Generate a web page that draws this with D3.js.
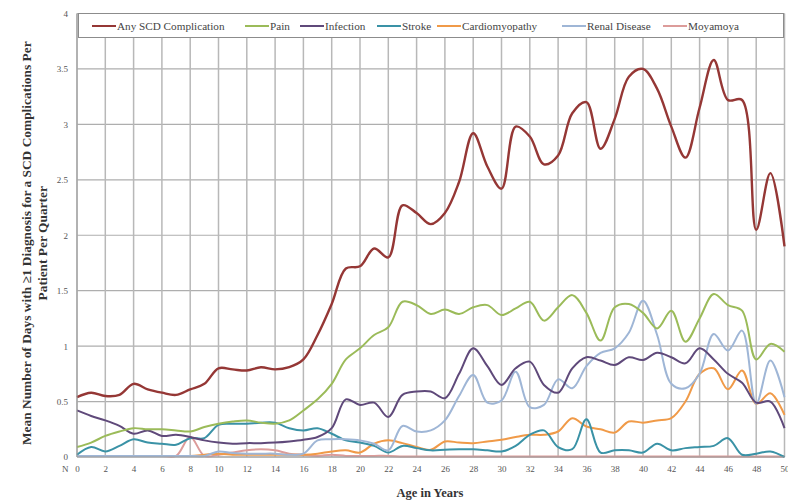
<!DOCTYPE html>
<html>
<head>
<meta charset="utf-8">
<script src="https://cdn.jsdelivr.net/npm/d3@7"></script>
<style>
  body { margin: 0; background: #fff; }
  svg { display: block; }
</style>
</head>
<body>
<script>
const width = 788;
const height = 503;

// ages 0..50, one point per year
const ages = d3.range(0, 51);

const anyScd = [0.54, 0.58, 0.55, 0.56, 0.66, 0.61, 0.58, 0.56, 0.61, 0.66,
  0.80, 0.79, 0.78, 0.81, 0.79, 0.81, 0.88, 1.10, 1.38, 1.70,
  1.72, 1.88, 1.80, 2.27, 2.20, 2.10, 2.20, 2.48, 2.92, 2.62,
  2.42, 2.98, 2.89, 2.64, 2.72, 3.10, 3.20, 2.78, 3.05, 3.43,
  3.50, 3.32, 2.98, 2.70, 3.15, 3.58, 3.22, 3.22, 2.05, 2.56, 1.90];
const pain = [0.09, 0.13, 0.19, 0.23, 0.26, 0.25, 0.25, 0.24, 0.23, 0.27,
  0.30, 0.32, 0.33, 0.31, 0.30, 0.33, 0.42, 0.52, 0.66, 0.88,
  0.98, 1.10, 1.17, 1.40, 1.37, 1.29, 1.33, 1.29, 1.35, 1.37,
  1.28, 1.34, 1.40, 1.23, 1.35, 1.46, 1.30, 1.05, 1.35, 1.38,
  1.30, 1.16, 1.32, 1.04, 1.25, 1.47, 1.37, 1.32, 0.88, 1.02, 0.95];
const infection = [0.42, 0.37, 0.33, 0.28, 0.21, 0.24, 0.19, 0.20, 0.18, 0.15,
  0.13, 0.12, 0.125, 0.125, 0.13, 0.14, 0.155, 0.18, 0.26, 0.52,
  0.47, 0.49, 0.36, 0.56, 0.59, 0.59, 0.53, 0.75, 0.98, 0.82,
  0.65, 0.80, 0.86, 0.65, 0.58, 0.80, 0.90, 0.87, 0.83, 0.90,
  0.875, 0.94, 0.90, 0.845, 0.98, 0.88, 0.75, 0.67, 0.49, 0.50, 0.26];
const stroke = [0.02, 0.09, 0.05, 0.10, 0.16, 0.13, 0.12, 0.11, 0.17, 0.17,
  0.29, 0.30, 0.30, 0.31, 0.31, 0.26, 0.24, 0.26, 0.21, 0.15,
  0.13, 0.10, 0.04, 0.10, 0.08, 0.06, 0.065, 0.07, 0.07, 0.06,
  0.05, 0.10, 0.20, 0.24, 0.09, 0.07, 0.34, 0.04, 0.06, 0.06,
  0.04, 0.12, 0.06, 0.08, 0.09, 0.10, 0.17, 0.02, 0.03, 0.05, 0.0];
const cardio = [0.01, 0.01, 0.01, 0.01, 0.01, 0.01, 0.01, 0.01, 0.01, 0.02,
  0.03, 0.02, 0.02, 0.02, 0.02, 0.02, 0.02, 0.03, 0.05, 0.06,
  0.04, 0.12, 0.15, 0.125, 0.09, 0.065, 0.14, 0.13, 0.125, 0.14,
  0.155, 0.18, 0.20, 0.20, 0.23, 0.35, 0.275, 0.25, 0.22, 0.32,
  0.31, 0.33, 0.35, 0.50, 0.75, 0.80, 0.61, 0.78, 0.48, 0.575, 0.38];
const renal = [0.01, 0.01, 0.01, 0.01, 0.01, 0.01, 0.01, 0.01, 0.01, 0.01,
  0.05, 0.035, 0.03, 0.03, 0.03, 0.02, 0.03, 0.15, 0.16, 0.16,
  0.15, 0.12, 0.06, 0.28, 0.23, 0.24, 0.33, 0.55, 0.74, 0.49,
  0.51, 0.77, 0.45, 0.47, 0.70, 0.62, 0.82, 0.94, 0.98, 1.12,
  1.41, 1.10, 0.66, 0.62, 0.75, 1.11, 0.96, 1.14, 0.48, 0.87, 0.54];
const moyamoya = [0.01, 0.01, 0.01, 0.01, 0.01, 0.01, 0.01, 0.01, 0.18, 0.01,
  0.02, 0.04, 0.06, 0.07, 0.06, 0.03, 0.02, 0.01, 0.02, 0.01,
  0.01, 0.01, 0.01, 0.005, 0.005, 0.005, 0.005, 0.005, 0.005, 0.005,
  0.005, 0.005, 0.005, 0.005, 0.005, 0.005, 0.005, 0.005, 0.005, 0.005,
  0.005, 0.005, 0.005, 0.005, 0.005, 0.005, 0.005, 0.005, 0.005, 0.005, 0.005];

const seriesNames = ["Any SCD Complication", "Pain", "Infection", "Stroke",
  "Cardiomyopathy", "Renal Disease", "Moyamoya"];
const seriesValues = [anyScd, pain, infection, stroke, cardio, renal, moyamoya];
const colors = ["#953735", "#9bbb59", "#5f497a", "#3a92a6", "#f09a48", "#9fb6d6", "#dc9c9a"];

const xTicks = d3.range(0, 51, 2);
const yTicks = d3.range(0, 4.01, 0.5);

const margin = { left: 77, right: 3.5, top: 13.5, bottom: 46 };

const svg = d3.select("body")
    .append("svg")
    .attr("width", width)
    .attr("height", height);

const x = d3.scaleLinear().domain([0, 50]).range([margin.left, width - margin.right]);
const y = d3.scaleLinear().domain([0, 4]).range([height - margin.bottom, margin.top]);

// gridlines
svg.append("g")
    .selectAll("line")
    .data(yTicks)
    .enter()
    .append("line")
    .attr("x1", x(0))
    .attr("x2", x(50))
    .attr("y1", d => y(d))
    .attr("y2", d => y(d))
    .style("stroke", "#aeaeae")
    .style("stroke-width", 1.2);

svg.append("g")
    .selectAll("line")
    .data(xTicks)
    .enter()
    .append("line")
    .attr("x1", d => x(d))
    .attr("x2", d => x(d))
    .attr("y1", y(0))
    .attr("y2", y(4))
    .style("stroke", "#b8b8b8")
    .style("stroke-width", 1.5);

// axes labels (no domain line)
const yAxis = svg.append("g")
    .attr("transform", `translate(${x(0) - 6},0)`)
    .call(d3.axisLeft(y).tickValues(yTicks).tickSize(0).tickFormat(d3.format("~g")));
yAxis.select(".domain").remove();
yAxis.selectAll("text")
    .style("font-family", "'Liberation Serif', serif")
    .style("font-size", "9px")
    .style("fill", "#555");

const xAxis = svg.append("g")
    .attr("transform", `translate(0,${y(0) + 6})`)
    .call(d3.axisBottom(x).tickValues(xTicks).tickSize(0));
xAxis.select(".domain").remove();
xAxis.selectAll("text")
    .style("font-family", "'Liberation Serif', serif")
    .style("font-size", "9px")
    .style("fill", "#555");

svg.append("text")
    .attr("x", 62)
    .attr("y", y(0) + 15)
    .style("font-family", "'Liberation Serif', serif")
    .style("font-size", "9px")
    .style("fill", "#555")
    .text("N");

// lines
const line = d3.line()
    .x((d, i) => x(ages[i]))
    .y(d => y(d))
    .curve(d3.curveCatmullRom.alpha(0.5));

const order = [6, 4, 3, 5, 2, 1, 0];
svg.append("g")
    .selectAll("path")
    .data(order)
    .enter()
    .append("path")
    .attr("d", k => line(seriesValues[k]))
    .style("fill", "none")
    .style("stroke", k => colors[k])
    .style("stroke-width", k => k === 0 ? 2.4 : 2)
    .style("stroke-linejoin", "round");

// plot frame (left/bottom axis lines)
svg.append("line")
    .attr("x1", x(0)).attr("x2", x(0))
    .attr("y1", y(0)).attr("y2", y(4))
    .style("stroke", "#9a9a9a").style("stroke-width", 1);
svg.append("line")
    .attr("x1", x(0)).attr("x2", x(50))
    .attr("y1", y(0)).attr("y2", y(0))
    .style("stroke", "#9a9a9a").style("stroke-width", 1);

// legend box
const legend = svg.append("g");
legend.append("rect")
    .attr("x", 78.5)
    .attr("y", 13.5)
    .attr("width", 705)
    .attr("height", 24)
    .style("fill", "#fff")
    .style("stroke", "#8c8c8c")
    .style("stroke-width", 1);

// where each legend label starts
const legendX = [117, 270, 325, 402, 462, 587, 688];
const item = legend.selectAll("g.item")
    .data(seriesNames)
    .enter()
    .append("g")
    .attr("class", "item")
    .attr("transform", (d, i) => `translate(${legendX[i]},26)`);
item.append("line")
    .attr("x1", -25).attr("x2", -1)
    .attr("y1", 0).attr("y2", 0)
    .style("stroke", (d, i) => colors[i])
    .style("stroke-width", 2);
item.append("text")
    .attr("x", 0)
    .attr("y", 3.8)
    .style("font-family", "'Liberation Serif', serif")
    .style("font-size", "11.2px")
    .style("fill", "#444")
    .text(d => d);

// y title
const yTitle = svg.append("text")
    .attr("transform", `translate(31,${(y(0) + y(4)) / 2 + 8}) rotate(-90)`)
    .attr("text-anchor", "middle")
    .style("font-family", "'Liberation Serif', serif")
    .style("font-size", "13.4px")
    .style("font-weight", "bold")
    .style("fill", "#333");
yTitle.append("tspan")
    .attr("x", 0)
    .attr("dy", 0)
    .text("Mean Number of Days with \u22651 Diagnosis for a SCD Complications Per");
yTitle.append("tspan")
    .attr("x", 0)
    .attr("dy", 16)
    .text("Patient Per Quarter");

// x title
svg.append("text")
    .attr("x", 430)
    .attr("y", 497)
    .attr("text-anchor", "middle")
    .style("font-family", "'Liberation Serif', serif")
    .style("font-size", "12.5px")
    .style("font-weight", "bold")
    .style("fill", "#333")
    .text("Age in Years");
</script>
</body>
</html>
